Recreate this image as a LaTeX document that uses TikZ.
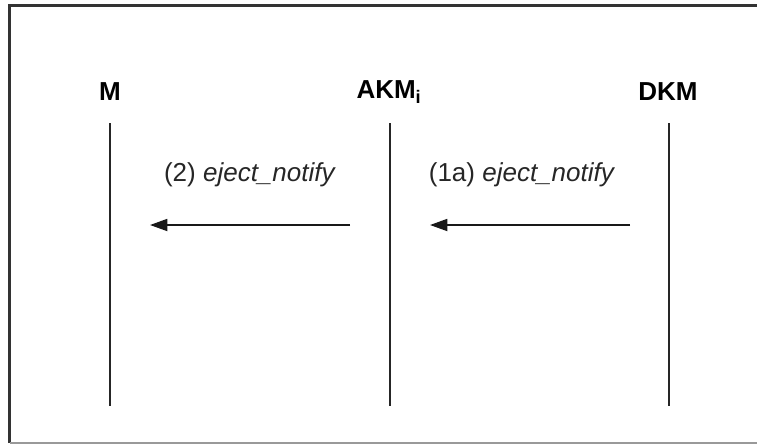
\documentclass[tikz,border=0pt]{standalone}
\usepackage{fontspec}
\setmainfont{Liberation Sans}
\usetikzlibrary{arrows.meta}
\begin{document}
\begin{tikzpicture}[x=0.75pt,y=-0.75pt,
  actor/.style={font=\fontsize{19.5}{22}\selectfont\bfseries, inner sep=0pt},
  lifeline/.style={line width=1.9pt, black!85},
  msg/.style={line width=1.3pt, black!90, -{Triangle[length=13pt,width=9pt]}},
  msglabel/.style={font=\fontsize{19.5}{22}\selectfont, inner sep=0pt, anchor=base, text=black!85}]
  \useasboundingbox (0,0) rectangle (757,444);
  % outer frame
  \draw[line width=2.2pt, black!80] (9.5,443) -- (9.5,5.5) -- (757,5.5);
  \draw[line width=0.9pt, black!40] (9.5,443) -- (757,443);

  % participants
  \node[actor] (m) at (110,92) {M};
  \node[actor] (akm) at (389,92) {AKM\textsubscript{i}};
  \node[actor] (dkm) at (668,92) {DKM};

  % lifelines
  \coordinate (mtop) at (110,123);   \coordinate (mbot) at (110,406);
  \coordinate (atop) at (390,123);   \coordinate (abot) at (390,406);
  \coordinate (dtop) at (669,123);   \coordinate (dbot) at (669,406);
  \draw[lifeline] (mtop) -- (mbot);
  \draw[lifeline] (atop) -- (abot);
  \draw[lifeline] (dtop) -- (dbot);

  % messages
  \coordinate (s2) at (350,225);  \coordinate (e2) at (150,225);
  \coordinate (s1) at (630,225);  \coordinate (e1) at (430,225);
  \draw[msg] (s2) -- (e2);
  \draw[msg] (s1) -- (e1);
  \node[msglabel] (l2) at (250,181) {(2) \textit{eject\_notify}};
  \node[msglabel] (l1) at (522,181) {(1a) \textit{eject\_notify}};
\end{tikzpicture}
\end{document}
